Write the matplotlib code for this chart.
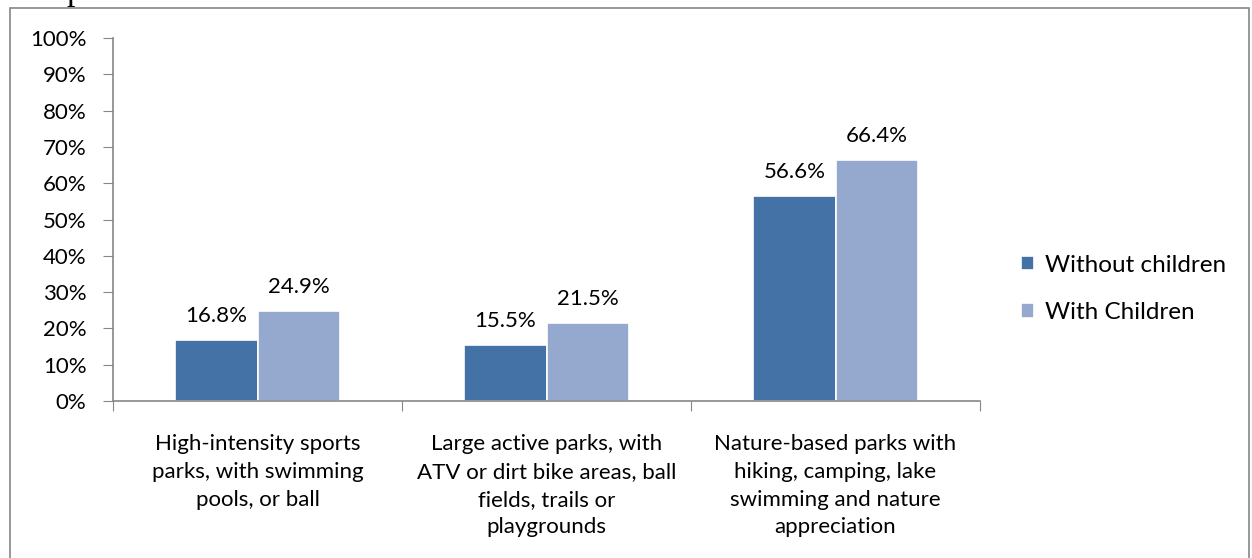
import numpy as np
import matplotlib.pyplot as plt
from matplotlib.patches import Rectangle

categories = ['High-intensity sports\nparks, with swimming\npools, or ball',
              'Large active parks, with\nATV or dirt bike areas, ball\nfields, trails or\nplaygrounds',
              'Nature-based parks with\nhiking, camping, lake\nswimming and nature\nappreciation']
without_children = [16.8, 15.5, 56.6]
with_children = [24.9, 21.5, 66.4]
series_names = ['Without children', 'With Children']
yticks = np.arange(0, 101, 10)

plt.rcParams['font.family'] = ['Lato', 'DejaVu Sans']
dark = '#4471a6'
light = '#95a9cf'
grey = '#868686'
fs = 16

W, H = 1252, 558
fig = plt.figure(figsize=(W/100, H/100), dpi=100)
ax = fig.add_axes([113/W, 1-401/H, (980-113)/W, (401-38)/H])

# chart frame (cut off at bottom)
fig.patches.append(Rectangle((10/W, -0.05), (1249-10)/W, 1.05-8/H, transform=fig.transFigure,
                             fill=False, edgecolor=grey, linewidth=1.2))
# stray text above frame, cut off by screenshot
fig.text(75/W, 1+8/H, 'p', fontsize=24, family='Liberation Serif', va='center', ha='center')

x = np.arange(len(categories))
w = 0.285
b1 = ax.bar(x - w/2, without_children, w, color=dark, edgecolor='white', linewidth=1.2, label=series_names[0])
b2 = ax.bar(x + w/2, with_children, w, color=light, edgecolor='white', linewidth=1.2, label=series_names[1])
for bars, vals in ((b1, without_children), (b2, with_children)):
    for r, v in zip(bars, vals):
        ax.text(r.get_x() + r.get_width()/2, v + 3.8, f'{v:.1f}%', ha='center', va='bottom', fontsize=fs)

ax.set_xlim(-0.5, 2.5)
ax.set_ylim(0, 100)
ax.set_yticks(yticks)
ax.set_yticklabels([f'{t}%' for t in yticks], fontsize=fs)
ax.set_xticks([-0.5, 0.5, 1.5, 2.5], minor=False)
ax.set_xticklabels([])
ax.set_xticks(x, minor=True)
ax.set_xticklabels(categories, minor=True, fontsize=fs, linespacing=1.48, va='top')
ax.tick_params(axis='x', which='minor', length=0, pad=24)
ax.tick_params(axis='x', which='major', length=7, color=grey, direction='out')
ax.tick_params(axis='y', length=7, color=grey, pad=12)
for s in ('top', 'right'):
    ax.spines[s].set_visible(False)
for s in ('left', 'bottom'):
    ax.spines[s].set_color(grey)
    ax.spines[s].set_linewidth(1.2)

fig.legend(handles=[b1, b2], loc='center left', bbox_to_anchor=(999/W, 1-289/H), frameon=False,
           fontsize=fs + 1.5, handlelength=0.55, handleheight=0.55, handletextpad=0.45, labelspacing=1.1)

fig.savefig('out.png', dpi=100)
